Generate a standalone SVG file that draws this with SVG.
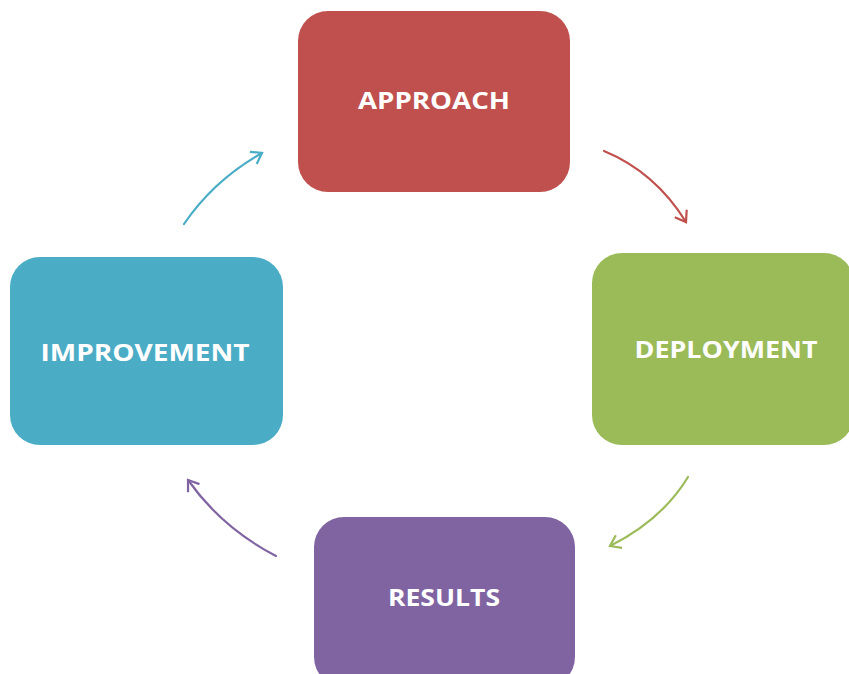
<svg xmlns="http://www.w3.org/2000/svg" width="849" height="674" viewBox="0 0 849 674">
<style>
.lbl{font-family:"Open Sans","Liberation Sans",sans-serif;font-weight:bold;font-size:24px;fill:#fff;text-anchor:middle}
.c{fill:none;stroke-width:2.2;stroke-linecap:round}
</style>
<defs>
<marker id="mr" markerWidth="16" markerHeight="16" refX="11" refY="8" orient="auto" markerUnits="userSpaceOnUse"><path d="M1,1 L11,8 L1,15" fill="none" stroke="#C0504D" stroke-width="2.2"/></marker>
<marker id="mg" markerWidth="16" markerHeight="16" refX="11" refY="8" orient="auto" markerUnits="userSpaceOnUse"><path d="M1,1 L11,8 L1,15" fill="none" stroke="#9BBB59" stroke-width="2.2"/></marker>
<marker id="mp" markerWidth="16" markerHeight="16" refX="11" refY="8" orient="auto" markerUnits="userSpaceOnUse"><path d="M1,1 L11,8 L1,15" fill="none" stroke="#8064A2" stroke-width="2.2"/></marker>
<marker id="mt" markerWidth="16" markerHeight="16" refX="11" refY="8" orient="auto" markerUnits="userSpaceOnUse"><path d="M1,1 L11,8 L1,15" fill="none" stroke="#4BACC6" stroke-width="2.2"/></marker>
</defs>
<rect width="849" height="674" fill="#fff"/>
<g id="approach"><rect x="298" y="11" width="272" height="181" rx="30" fill="#C0504D"/><text class="lbl" x="434" y="109" textLength="152" lengthAdjust="spacingAndGlyphs">APPROACH</text></g>
<g id="deployment"><rect x="592" y="253" width="262" height="192" rx="30" fill="#9BBB59"/><text class="lbl" x="726" y="358" textLength="183" lengthAdjust="spacingAndGlyphs">DEPLOYMENT</text></g>
<g id="results"><rect x="314" y="517" width="261" height="170" rx="30" fill="#8064A2"/><text class="lbl" x="444" y="606" textLength="112" lengthAdjust="spacingAndGlyphs">RESULTS</text></g>
<g id="improvement"><rect x="10" y="257" width="273" height="188" rx="30" fill="#4BACC6"/><text class="lbl" x="145" y="361" textLength="209" lengthAdjust="spacingAndGlyphs">IMPROVEMENT</text></g>
<g id="connectors">
<path class="c" d="M604,151 Q655,172 686,222" stroke="#C0504D" marker-end="url(#mr)"/>
<path class="c" d="M688,477 Q662,520 610,546" stroke="#9BBB59" marker-end="url(#mg)"/>
<path class="c" d="M276,556 Q222,528 188,480" stroke="#8064A2" marker-end="url(#mp)"/>
<path class="c" d="M184,224 Q214,180 262,153" stroke="#4BACC6" marker-end="url(#mt)"/>
</g>
</svg>
